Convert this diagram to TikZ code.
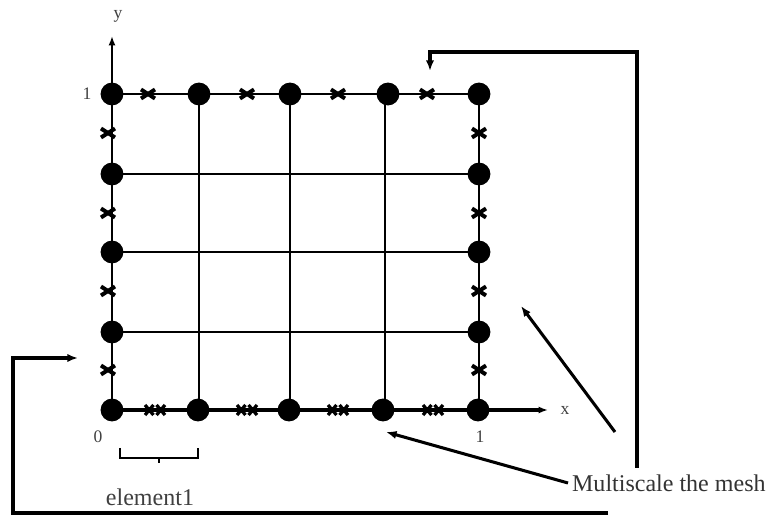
\documentclass[tikz,border=0pt]{standalone}
\usepackage{fontspec}
\setmainfont{Liberation Serif}
\usetikzlibrary{arrows.meta, positioning, calc}

\tikzset{
  meshline/.style={line width=1.6pt},
  meshdot/.style={circle, fill=black, inner sep=0pt, minimum size=19.5pt},
  pointer/.style={line width=2.6pt, -{Latex[length=9pt, width=7pt]}},
  axislabel/.style={text=black!75, font=\fontsize{15}{18}\selectfont},
  xmark/.pic={\draw[line width=3.4pt] (-7,-4.5) -- (7,4.5) (-7,4.5) -- (7,-4.5);},
  xxmark/.pic={\draw[line width=2.8pt] (-10,-5) -- (-1.5,5) (-10,5) -- (-1.5,-5)
                                      (1.5,-5) -- (10,5) (1.5,5) -- (10,-5);}
}

\begin{document}
\begin{tikzpicture}[x=0.03cm, y=-0.03cm]
    \useasboundingbox (0,0) rectangle (773,516);

    % Assi
    \draw[line width=1.8pt, -{Latex[length=8pt, width=6pt]}] (112,410) -- (112,36);
    \draw[line width=2.8pt, -{Latex[length=8pt, width=6pt]}] (112,410) -- (548,410);
    \node[axislabel] (ylab) at (118,16) {y};
    \node[axislabel] (xlab) at (565,410) {x};
    \node[axislabel] (one-y) at (87,94) {1};
    \node[axislabel] (zero) at (98,437) {0};
    \node[axislabel] (one-x) at (480,437) {1};

    % Griglia
    \draw[meshline] (112,94) -- (479,94) -- (479,410);
    \foreach \yy in {174,252,332}
        \draw[meshline] (112,\yy) -- (479,\yy);
    \foreach \xx in {199,290,385}
        \draw[meshline] (\xx,94) -- (\xx,410);

    % Nodi
    \foreach \xx/\n in {112/1,199/2,290/3,388/4,479/5}
        \node[meshdot] (top\n) at (\xx,94) {};
    \foreach \xx/\n in {112/1,198/2,289/3,383/4,478/5}
        \node[meshdot] (bot\n) at (\xx,410) {};
    \foreach \yy/\n in {174/2,252/3,332/4} {
        \node[meshdot] (left\n) at (112,\yy) {};
        \node[meshdot] (right\n) at (479,\yy) {};
    }

    % Punti intermedi
    \foreach \xx in {148,247,338,427}
        \pic at (\xx,94) {xmark};
    \foreach \yy in {133,213,291,370} {
        \pic at (108,\yy) {xmark};
        \pic at (479,\yy) {xmark};
    }
    \foreach \xx in {155,247,338,433}
        \pic at (\xx,410) {xxmark};

    % Elemento
    \draw[line width=1.3pt] (120,448) -- (120,458) -- (198,458) -- (198,448);
    \draw[line width=1.3pt] (159,458) -- (159,463);
    \node[text=black!75, font=\fontsize{20.5}{24}\selectfont] (elem) at (150,497) {element1};

    % Frecce
    \node[text=black!80, font=\fontsize{20.5}{24}\selectfont, anchor=west] (msg) at (568,483) {Multiscale the mesh};
    \coordinate (tipbot) at (386,432);
    \coordinate (tipside) at (521,306);
    \coordinate (tiptop) at (430,71);
    \coordinate (tipleft) at (78,358);
    \coordinate (startside) at (615,432);
    \coordinate (startup) at (637,468);
    \coordinate (startdown) at (608,513);
    \draw[pointer] (msg.west) -- (tipbot);
    \draw[pointer] (startside) -- (tipside);
    \draw[pointer] (startup) -- (637,52) -- (430,52) -- (tiptop);
    \draw[pointer] (startdown) -- (13,513) -- (13,358) -- (tipleft);
\end{tikzpicture}
\end{document}
